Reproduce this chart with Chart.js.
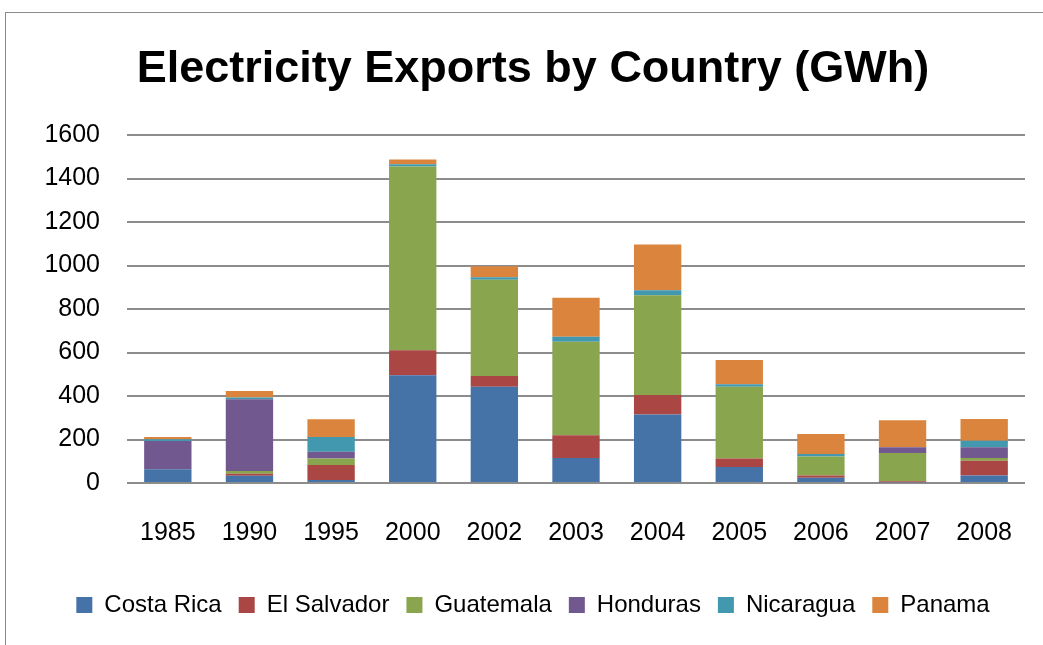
<!DOCTYPE html>
<html><head><meta charset="utf-8">
<script src="https://cdn.jsdelivr.net/npm/chart.js@4"></script>
<style>
html,body{margin:0;padding:0;background:#fff;overflow:hidden;width:1043px;height:645px;}
#frame{position:absolute;left:5px;top:12px;width:1100px;height:700px;border:1px solid #8c8c8c;}
#wrap{position:absolute;left:0;top:0;width:1043px;height:645px;}
</style></head>
<body>
<div id="frame"></div>
<div id="wrap"><canvas id="c" width="1043" height="645"></canvas></div>
<script>
const years = ["1985","1990","1995","2000","2002","2003","2004","2005","2006","2007","2008"];
const costaRica  = [63, 33, 14, 495, 442, 115, 315, 73, 24, 3, 35];
const elSalvador = [0, 10, 69, 115, 50, 105, 90, 40, 11, 5, 67];
const guatemala  = [0, 12, 30, 845, 442, 430, 458, 329, 87, 130, 13];
const honduras   = [130, 330, 31, 0, 0, 0, 0, 0, 0, 26, 49];
const nicaragua  = [8, 8, 68, 10, 12, 22, 23, 12, 11, 0, 30];
const panama     = [10, 30, 81, 22, 50, 180, 210, 112, 92, 124, 100];
const yTicks = [0, 200, 400, 600, 800, 1000, 1200, 1400, 1600];

const FONT = "'Liberation Sans', Arial, sans-serif";
const mk = (label, data, color) => ({label, data, backgroundColor: color, borderWidth: 0});

new Chart(document.getElementById('c'), {
  type: 'bar',
  data: {
    labels: years,
    datasets: [
      mk('Costa Rica', costaRica, '#4572A7'),
      mk('El Salvador', elSalvador, '#AA4643'),
      mk('Guatemala', guatemala, '#89A54E'),
      mk('Honduras', honduras, '#71588F'),
      mk('Nicaragua', nicaragua, '#4198AF'),
      mk('Panama', panama, '#DB843D')
    ]
  },
  options: {
    responsive: false,
    animation: false,
    layout: {padding: {left: 41, right: 18, top: 43, bottom: 18}},
    datasets: {bar: {categoryPercentage: 1, barPercentage: 0.58}},
    plugins: {
      title: {display: true, text: 'Electricity Exports by Country (GWh)', color: '#000',
        font: {family: FONT, size: 45, weight: 'bold'}, padding: {top: 0, bottom: 38}},
      legend: {position: 'bottom', labels: {color: '#000', boxWidth: 16, boxHeight: 16, padding: 17,
        font: {family: FONT, size: 24}}},
      tooltip: {enabled: false}
    },
    scales: {
      x: {stacked: true, grid: {display: false}, border: {display: false},
        afterFit: s => { s.height = 93; },
        ticks: {color: '#000', padding: 27, font: {family: FONT, size: 25}}},
      y: {stacked: true, min: 0, max: 1600,
        afterBuildTicks: s => { s.ticks = yTicks.map(v => ({value: v})); },
        afterFit: s => { s.width = 86; },
        grid: {color: '#8c8c8c', lineWidth: 2, drawTicks: false},
        border: {display: false},
        ticks: {color: '#000', padding: 27, font: {family: FONT, size: 25},
          callback: v => String(v)}}
    }
  }
});
</script>
</body></html>
